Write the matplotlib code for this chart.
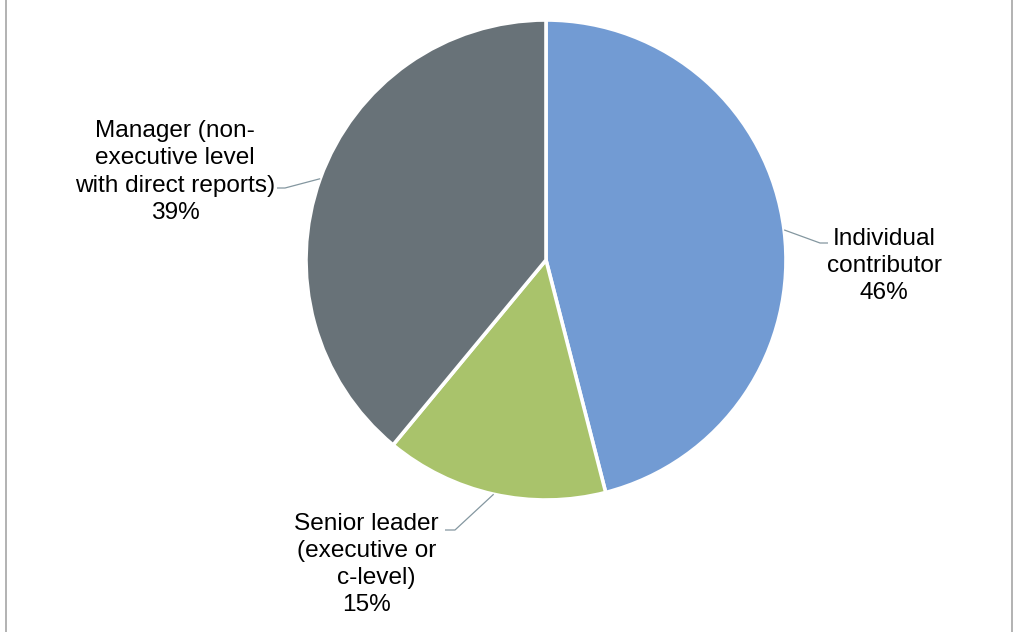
import numpy as np
import matplotlib
matplotlib.use("Agg")
import matplotlib.pyplot as plt
from matplotlib.lines import Line2D

# Survey breakdown by role level
categories = ["Individual\ncontributor", "Senior leader\n(executive or\nc-level)", "Manager (non-\nexecutive level\nwith direct reports)"]
shares = [46, 15, 39]
colors = ["#729BD3", "#A9C36B", "#687278"]

W, H = 1013, 632
CX, CY, R = 546, 260, 240  # pie centre and radius in pixels (y from top)

plt.rcParams["font.family"] = ["Liberation Sans", "DejaVu Sans"]

fig = plt.figure(figsize=(W / 100, H / 100), dpi=100)
ax = fig.add_axes([0, 0, 1, 1])


def px(x, y):
    """Pixel position (from top-left) to data coordinates."""
    return (x - CX) / R, (CY - y) / R


wedges, _ = ax.pie(shares, colors=colors, startangle=90, counterclock=False,
                   radius=1.0, center=(0, 0),
                   wedgeprops=dict(edgecolor="white", linewidth=2.6))

ax.set_xlim(-CX / R, (W - CX) / R)
ax.set_ylim(-(H - CY) / R, CY / R)
ax.set_aspect("equal")
ax.axis("off")

# Leader knees, text anchors (pixels)
knees = [((820, 243), (828, 243)), ((455, 530), (445, 530)), ((285, 188), (277, 188))]
text_pos = [(884, 266), None, (175, 172)]
leader_col = "#8497A0"
fs = 17.6

for w, share, cat, (k1, k2), tp in zip(wedges, shares, categories, knees, text_pos):
    mid = np.deg2rad((w.theta1 + w.theta2) / 2)
    ex, ey = np.cos(mid), np.sin(mid)
    xs = [ex, px(*k1)[0], px(*k2)[0]]
    ys = [ey, px(*k1)[1], px(*k2)[1]]
    ax.plot(xs, ys, color=leader_col, lw=0.9, solid_capstyle="butt")
    label = f"{cat}\n{share}%"
    if tp is not None:
        ax.text(*px(*tp), label, ha="center", va="center", fontsize=fs,
                linespacing=1.31, color="#000000")
    else:
        lines = label.split("\n")
        centres = [(366, 524), (367, 551), (376, 578), (366, 605)]
        for ln, (lx, ly) in zip(lines, centres):
            ax.text(*px(lx, ly), ln, ha="center", va="center", fontsize=fs,
                    color="#000000")

# Frame edges
for xf in (5.5 / W, 1011.5 / W):
    fig.add_artist(Line2D([xf, xf], [0, 1], color="#A6A6A6", lw=1.2,
                          transform=fig.transFigure))

fig.savefig("out.png", dpi=100, facecolor="white")
